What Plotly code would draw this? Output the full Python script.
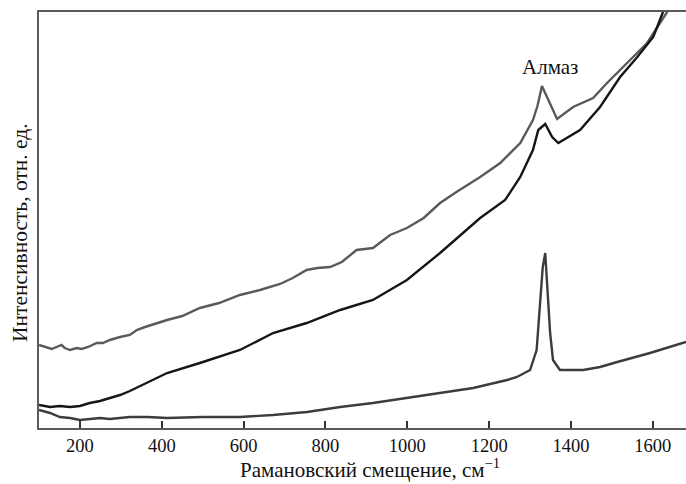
import plotly.graph_objects as go

# Raman shift (cm^-1) and intensity (arb. units) for three spectra
top_x = [100, 119, 131, 143, 155, 163, 176, 192, 204, 220, 241, 256, 273, 298, 322, 339, 359,
         413, 450, 493, 540, 591, 640, 689, 720, 754, 780, 811, 840, 876, 916, 958, 999, 1040,
         1080, 1120, 1178, 1227, 1276, 1307, 1318, 1329, 1336, 1344, 1366, 1405, 1454, 1488,
         1537, 1586, 1635, 1650]
top_y = [83, 81, 79, 81, 83, 80, 78, 80, 79, 81, 85, 85, 88, 91, 93, 98, 101,
         108, 112, 120, 125, 133, 138, 144, 150, 158, 160, 161, 166, 178, 180, 193, 200, 210,
         225, 236, 251, 265, 285, 308, 322, 342, 336, 328, 309, 321, 330, 345,
         365, 385, 416, 430]

mid_x = [100, 127, 151, 176, 200, 224, 249, 273, 298, 322, 347, 366, 413, 493, 591, 672,
         754, 836, 916, 999, 1080, 1178, 1239, 1276, 1307, 1320, 1337, 1354, 1369, 1422,
         1471, 1520, 1562, 1601, 1625, 1640]
mid_y = [23, 21, 22, 21, 22, 25, 27, 30, 33, 37, 42, 45, 55, 65, 78, 95,
         105, 118, 128, 148, 175, 210, 228, 251, 278, 298, 304, 291, 285, 298,
         321, 351, 371, 391, 416, 432]

bot_x = [100, 127, 151, 176, 200, 224, 249, 273, 298, 322, 347, 366, 413, 500, 591, 672,
         755, 836, 916, 999, 1080, 1161, 1244, 1268, 1300, 1316, 1325, 1331, 1337, 1342,
         1349, 1356, 1373, 1430, 1471, 1513, 1593, 1681]
bot_y = [18, 15, 11, 10, 8, 9, 10, 9, 10, 11, 11, 11, 10, 11, 11, 13,
         16, 21, 25, 30, 35, 40, 48, 51, 58, 78, 128, 161, 175, 145,
         95, 68, 58, 58, 61, 66, 75, 86]

x_ticks = [200, 400, 600, 800, 1000, 1200, 1400, 1600]

FONT = "Liberation Serif, Times New Roman, serif"

fig = go.Figure()
fig.add_trace(go.Scatter(x=top_x, y=top_y, mode="lines",
                         line=dict(color="#5a5a5a", width=2.4), showlegend=False))
fig.add_trace(go.Scatter(x=mid_x, y=mid_y, mode="lines",
                         line=dict(color="#161616", width=2.4), showlegend=False))
fig.add_trace(go.Scatter(x=bot_x, y=bot_y, mode="lines",
                         line=dict(color="#3c3c3c", width=2.4), showlegend=False))

fig.add_annotation(x=1349, y=361, text="Алмаз", showarrow=False,
                   font=dict(family=FONT, size=21, color="#111"),
                   xanchor="center", yanchor="middle")

# axis titles as annotations for precise placement
fig.add_annotation(xref="paper", yref="paper", x=-0.0294, y=0.471,
                   text="Интенсивность, отн. ед.", textangle=-90, showarrow=False,
                   font=dict(family=FONT, size=21.5, color="#111"),
                   xanchor="center", yanchor="middle")
fig.add_annotation(xref="paper", yref="paper", x=0.512, y=-0.098,
                   text="Рамановский смещение, см<sup>−1</sup>", showarrow=False,
                   font=dict(family=FONT, size=21, color="#111"),
                   xanchor="center", yanchor="middle")

fig.update_layout(
    width=686, height=484,
    margin=dict(l=39, r=0, t=12, b=56),
    paper_bgcolor="white", plot_bgcolor="white",
    font=dict(family=FONT, size=18, color="#111"),
)
fig.update_xaxes(range=[100, 1681], tickvals=x_ticks, ticktext=[str(v) for v in x_ticks],
                 ticks="inside", ticklen=7, tickwidth=2, tickcolor="#333",
                 showline=True, linecolor="#5a5a5a", linewidth=2, mirror=True,
                 showgrid=False, zeroline=False,
                 tickfont=dict(family=FONT, size=18.5, color="#111"))
fig.update_yaxes(range=[0, 416], showticklabels=False, ticks="",
                 showline=True, linecolor="#5a5a5a", linewidth=2,
                 showgrid=False, zeroline=False)

fig.write_html("out.html", config={"displayModeBar": False},
               post_script="document.body.style.margin='0';document.body.style.overflow='hidden';")
